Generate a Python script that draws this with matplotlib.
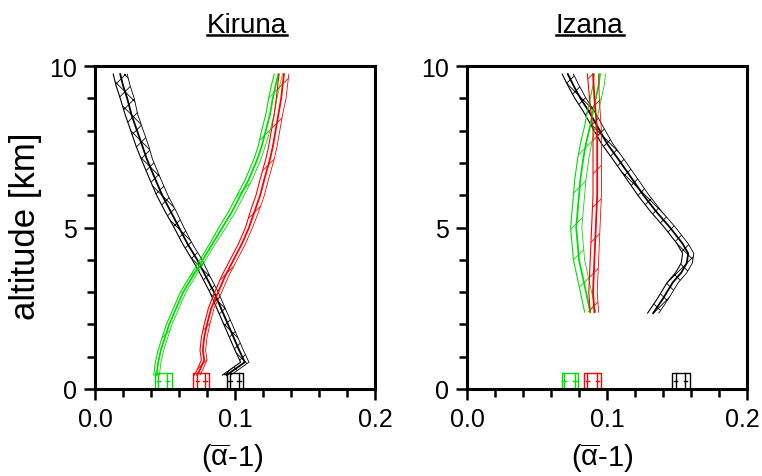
import numpy as np
import matplotlib.pyplot as plt
from matplotlib.lines import Line2D
from matplotlib.transforms import ScaledTranslation

plt.rcParams['font.family'] = ['Liberation Sans', 'DejaVu Sans']
plt.rcParams['mathtext.fontset'] = 'custom'
plt.rcParams['mathtext.rm'] = 'Liberation Sans'
plt.rcParams['mathtext.it'] = 'Liberation Sans'
plt.rcParams['hatch.linewidth'] = 0.6

# Kiruna profiles: altitude [km] vs (alpha_bar - 1), centre and half spread
kir_black_alt = [0.43, 0.83, 1.2, 1.6, 2.0, 2.5, 3.0, 3.5, 4.0, 4.5, 5.0, 5.5, 6.0, 6.5, 7.12, 7.5, 8.0, 8.5, 9.0, 9.4, 9.75]
kir_black_val = [0.094, 0.107, 0.103, 0.099, 0.095, 0.090, 0.085, 0.079, 0.073, 0.066, 0.060, 0.054, 0.048, 0.043, 0.037, 0.034, 0.030, 0.026, 0.023, 0.020, 0.018]
kir_black_err = [0.003] * 8 + [0.0035] * 3 + [0.004] * 4 + [0.0045] * 3 + [0.005] * 3

kir_green_alt = [0.43, 0.8, 1.2, 1.6, 2.0, 2.5, 3.0, 3.5, 4.0, 4.5, 5.0, 5.5, 6.0, 6.5, 7.12, 7.5, 8.0, 8.5, 9.0, 9.4, 9.75]
kir_green_val = [0.044, 0.045, 0.047, 0.050, 0.053, 0.058, 0.063, 0.070, 0.077, 0.084, 0.091, 0.098, 0.104, 0.110, 0.116, 0.119, 0.122, 0.125, 0.127, 0.129, 0.131]
kir_green_err = [0.002] * 10 + [0.0025] * 6 + [0.003] * 5

kir_red_alt = [0.43, 0.6, 0.9, 1.2, 1.6, 2.0, 2.5, 3.0, 3.5, 4.0, 4.5, 5.0, 5.5, 6.0, 6.5, 7.12, 7.5, 8.0, 8.5, 9.0, 9.4, 9.75]
kir_red_val = [0.073, 0.075, 0.078, 0.077, 0.078, 0.080, 0.083, 0.088, 0.093, 0.099, 0.105, 0.110, 0.114, 0.118, 0.121, 0.125, 0.127, 0.129, 0.131, 0.133, 0.134, 0.135]
kir_red_err = [0.002] * 7 + [0.0025] * 5 + [0.003] * 7 + [0.0035] * 3

# Izana profiles
iza_black_alt = [2.35, 2.8, 3.3, 3.6, 3.9, 4.2, 4.5, 5.0, 5.5, 6.0, 6.5, 7.12, 7.6, 8.14, 8.6, 9.0, 9.4, 9.75]
iza_black_val = [0.133, 0.140, 0.147, 0.153, 0.157, 0.158, 0.154, 0.145, 0.135, 0.126, 0.118, 0.108, 0.100, 0.093, 0.087, 0.081, 0.076, 0.072]
iza_black_err = [0.004] * 18

iza_green_alt = [2.38, 2.8, 3.2, 3.6, 4.0, 4.5, 5.0, 5.5, 6.0, 6.5, 7.12, 7.6, 8.14, 8.6, 9.0, 9.4, 9.75]
iza_green_val = [0.088, 0.086, 0.084, 0.082, 0.080, 0.079, 0.078, 0.079, 0.080, 0.081, 0.083, 0.085, 0.088, 0.090, 0.092, 0.094, 0.095]
iza_green_err = [0.004] * 17

iza_red_alt = [2.38, 3.0, 4.0, 5.0, 6.0, 7.0, 8.0, 9.0, 9.75]
iza_red_val = [0.091, 0.090, 0.091, 0.092, 0.093, 0.093, 0.093, 0.091, 0.090]
iza_red_err = [0.003, 0.003, 0.003, 0.003, 0.003, 0.003, 0.003, 0.0035, 0.004]

# ground values: box edges and inner bars
kir_boxes = [('#00dd00', 0.043, 0.055, [0.0452, 0.0516]),
             ('red', 0.070, 0.0816, [0.073, 0.0786]),
             ('black', 0.094, 0.1055, [0.0964, 0.1029])]
iza_boxes = [('#00dd00', 0.0676, 0.0795, [0.0693, 0.0771]),
             ('red', 0.0836, 0.0955, [0.086, 0.093]),
             ('black', 0.1464, 0.159, [0.149, 0.156])]
box_top = 0.48
box_mid = 0.26

green = '#00dd00'

fig = plt.figure(figsize=(7.62, 4.77), dpi=100)
ax1 = fig.add_axes([0.1247, 0.1824, 0.3674, 0.6771])
ax2 = fig.add_axes([0.6129, 0.1824, 0.3674, 0.6771])


def band(ax, alt, val, err, color, hatch):
    alt = np.array(alt)
    val = np.array(val)
    err = np.array(err)
    ax.fill_betweenx(alt, val - err, val + err, facecolor='none',
                     edgecolor=color, hatch=hatch, linewidth=0)
    ax.plot(val, alt, color=color, lw=1.3)
    ax.plot(val - err, alt, color=color, lw=0.8)
    ax.plot(val + err, alt, color=color, lw=0.6)


def boxes(ax, specs):
    for color, lo, hi, inner in specs:
        ax.plot([lo, lo, hi, hi], [0, box_top, box_top, 0], color=color, lw=1.0)
        for x in inner:
            ax.plot([x, x], [0, box_top], color=color, lw=1.0)
            ax.plot([x - 0.0012, x + 0.0012], [box_mid, box_mid], color=color, lw=1.0)


band(ax1, kir_black_alt, kir_black_val, kir_black_err, 'black', 'xx')
band(ax1, kir_green_alt, kir_green_val, kir_green_err, green, '/')
band(ax1, kir_red_alt, kir_red_val, kir_red_err, 'red', '/')
boxes(ax1, kir_boxes)

band(ax2, iza_black_alt, iza_black_val, iza_black_err, 'black', 'xx')
band(ax2, iza_green_alt, iza_green_val, iza_green_err, green, '/')
band(ax2, iza_red_alt, iza_red_val, iza_red_err, 'red', '/')
boxes(ax2, iza_boxes)

for ax in (ax1, ax2):
    ax.set_xlim(0, 0.2)
    ax.set_ylim(0, 10)
    ax.set_xticks([0, 0.1, 0.2])
    ax.set_xticklabels(['0.0', '0.1', '0.2'])
    ax.set_xticks(np.arange(0, 0.201, 0.02), minor=True)
    ax.set_yticks([0, 5, 10])
    ax.set_yticks(np.arange(0, 11, 1), minor=True)
    for s in ax.spines.values():
        s.set_linewidth(2.2)
    ax.tick_params(which='major', direction='out', length=8, width=1.8,
                   labelsize=18, pad=5)
    ax.tick_params(which='minor', direction='out', length=6, width=1.8)

# keep the last tick label of the right panel inside the figure
last = ax2.get_xticklabels()[-1]
last.set_transform(last.get_transform() + ScaledTranslation(-3 / 72, 0, fig.dpi_scale_trans))

# axis labels
xlab = r'($\overline{\mathrm{\alpha}}$-1)'
fig.text(0.305, 0.040, xlab, fontsize=21, ha='center', va='center')
fig.text(0.790, 0.040, xlab, fontsize=21, ha='center', va='center')
fig.text(0.033, 0.525, 'altitude [km]', fontsize=25, rotation=90,
         ha='center', va='center')

# underlined titles
titles = [fig.text(0.324, 0.931, 'Kiruna', fontsize=20, ha='center', va='baseline'),
          fig.text(0.774, 0.931, 'Izana', fontsize=20, ha='center', va='baseline')]

fig.canvas.draw()
r = fig.canvas.get_renderer()
for t in titles:
    bb = t.get_window_extent(r)
    y = 0.925
    fig.add_artist(Line2D([bb.x0 / fig.bbox.width, bb.x1 / fig.bbox.width], [y, y],
                          transform=fig.transFigure, color='black', lw=1.8))

fig.savefig('out.png', dpi=100)
